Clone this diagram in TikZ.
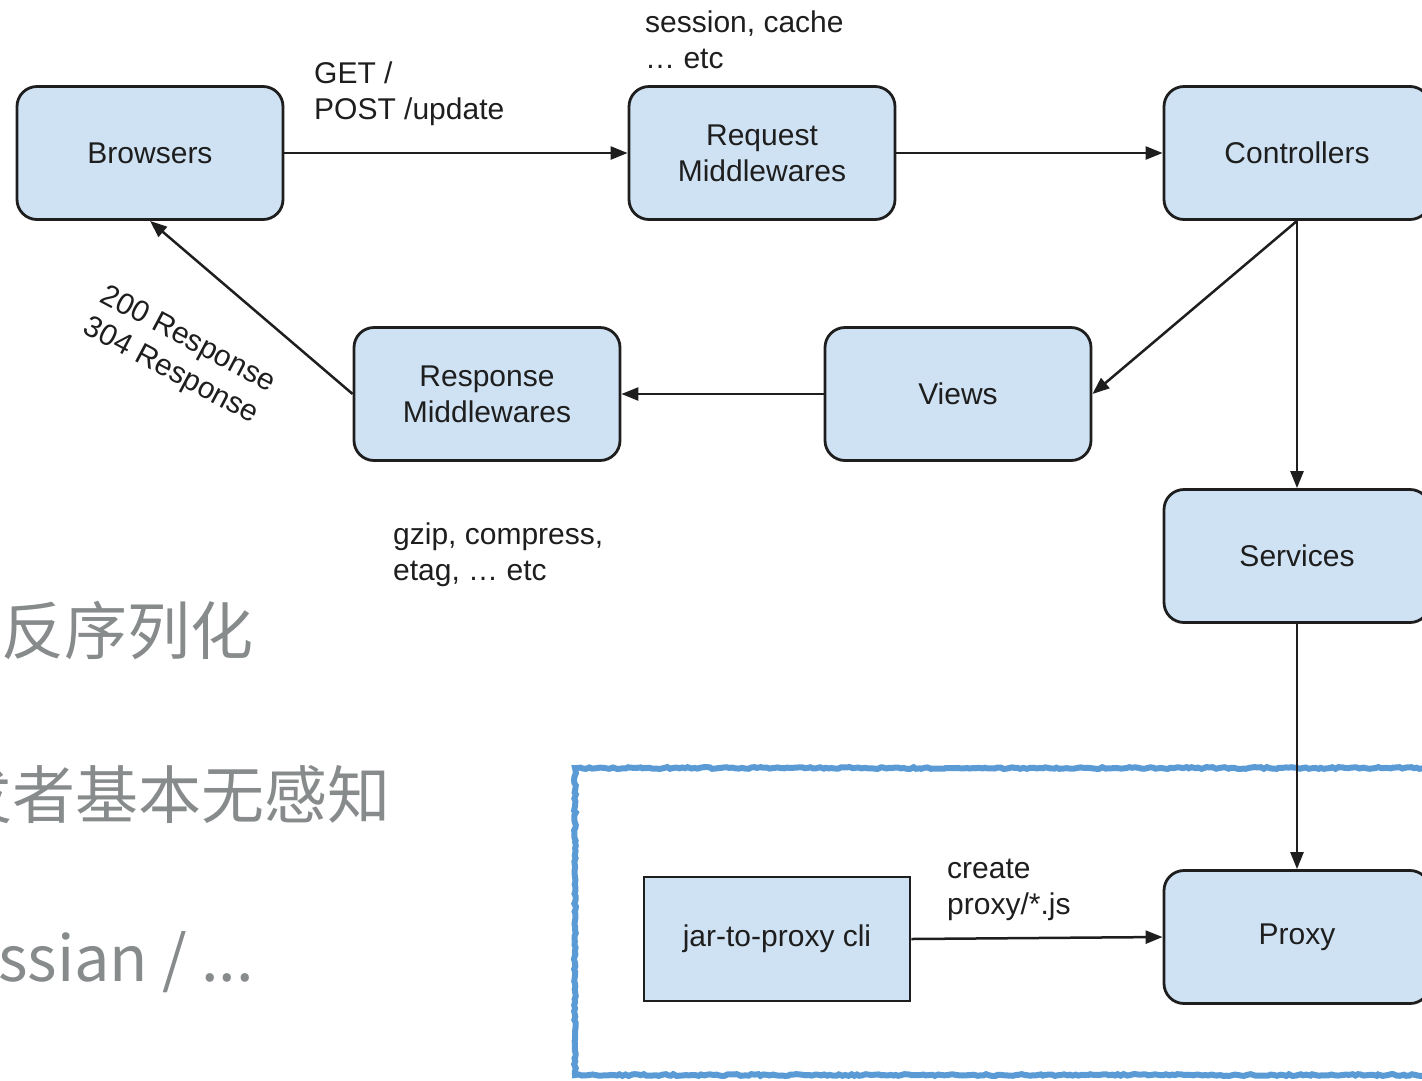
\documentclass[tikz,border=0pt]{standalone}
\usepackage{fontspec}
\setmainfont{Liberation Sans}
\newfontfamily\cjk{Noto Sans CJK SC}
\usetikzlibrary{arrows.meta,decorations.pathmorphing}
\definecolor{boxfill}{HTML}{CFE2F3}
\definecolor{boxline}{HTML}{1E1E1E}
\definecolor{hlblue}{HTML}{5B9BD5}
\definecolor{cjkgray}{HTML}{878B8B}
\begin{document}
\begin{tikzpicture}[x=1pt,y=-1pt,
  proc/.style={draw=boxline, line width=2.8pt, fill=boxfill, rounded corners=20pt,
    minimum width=266pt, minimum height=133pt, align=center,
    font=\fontsize{30}{36}\selectfont, text=boxline, inner sep=0pt},
  flat/.style={proc, rounded corners=0pt, minimum height=124pt},
  lbl/.style={align=left, font=\fontsize{30}{36}\selectfont, text=boxline, inner sep=0pt},
  conn/.style={line width=2.5pt, draw=boxline, -{Triangle[length=17pt,width=13pt]}},
  side/.style={font=\cjk\fontsize{63}{70}\selectfont, text=cjkgray, inner sep=0pt}]
\useasboundingbox (0,0) rectangle (1422,1080);
\clip (0,0) rectangle (1422,1080);

% side text (cut off slide text)
\node[side, anchor=east] (c1) at (254,631) {反序列化};
\node[side, anchor=east] (c2) at (391,795) {发者基本无感知};
\node[side, anchor=base west] (c3) at (-2,981) {ssian / ...};

% highlight frame
\draw[hlblue, line width=6pt, decorate,
  decoration={random steps, segment length=3pt, amplitude=0.9pt}]
  (575,768) rectangle (1432,1075);

% boxes
\node[proc] (browsers) at (150,153) {Browsers};
\node[proc] (reqmw) at (762,153) {Request\\Middlewares};
\node[proc] (ctrl) at (1297,153) {Controllers};
\node[proc] (respmw) at (487,394) {Response\\Middlewares};
\node[proc] (views) at (958,394) {Views};
\node[proc] (services) at (1297,556) {Services};
\node[proc] (proxy) at (1297,937) {Proxy};
\node[flat] (jar) at (777,939) {jar-to-proxy cli};

% connectors
\draw[conn] (browsers.east) -- (reqmw.west);
\draw[conn] (reqmw.east) -- (ctrl.west);
\draw[conn] (ctrl.south) -- (services.north);
\draw[conn] (ctrl.south) -- (views.east);
\draw[conn] (views.west) -- (respmw.east);
\draw[conn] (respmw.west) -- (browsers.south);
\draw[conn] (services.south) -- (proxy.north);
\draw[conn] (jar.east) -- (proxy.west);

% labels
\node[lbl, anchor=base west] (lget) at (314,119) {GET /\\POST /update};
\node[lbl, anchor=base west] (lsess) at (645,68) {session, cache\\\dots\ etc};
\node[lbl, anchor=base west] (lgzip) at (393,580) {gzip, compress,\\etag, \dots\ etc};
\node[lbl, anchor=base west] (lcreate) at (947,914) {create\\proxy/*.js};
\node[lbl, rotate=-28] (lresp) at (179,356) {200 Response\\304 Response};
\end{tikzpicture}
\end{document}
